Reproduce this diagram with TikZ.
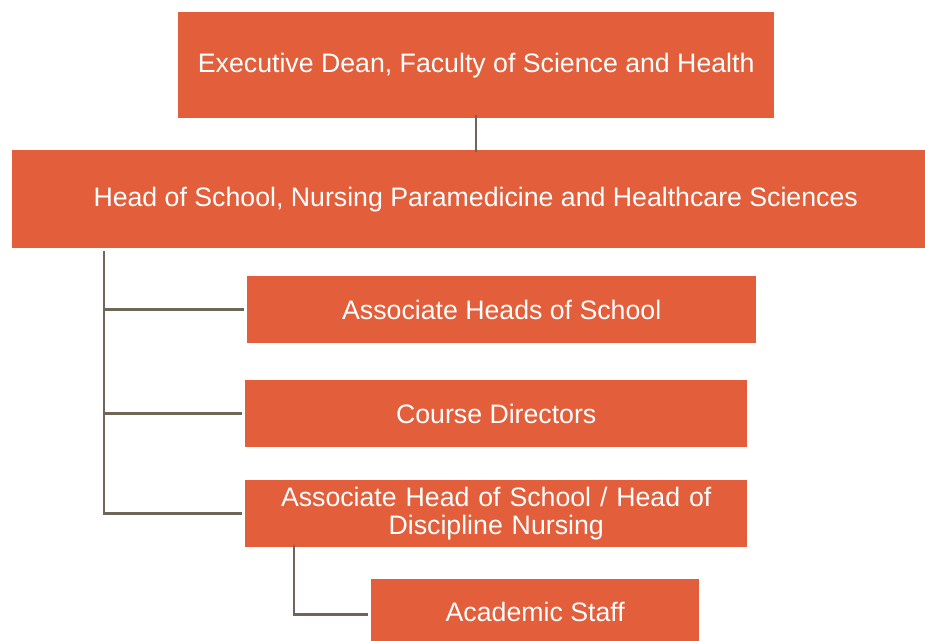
\documentclass[tikz,border=0pt]{standalone}
\usepackage{fontspec}
\setmainfont{Liberation Sans}
\definecolor{boxorange}{HTML}{E35E3A}
\definecolor{linegray}{HTML}{6F6658}
\begin{document}
\begin{tikzpicture}[x=1pt,y=-1pt,
  orgbox/.style={fill=boxorange, draw=none, text=white, font=\fontsize{26.7}{28}\selectfont, inner sep=0pt, align=center, anchor=north west},
  conn/.style={draw=linegray, line width=2.6pt}]
\useasboundingbox (0,0) rectangle (925,640);
\node[orgbox, minimum width=596pt, minimum height=106pt] (exec) at (178,12) {Executive Dean, Faculty of Science and Health};
\node[orgbox, minimum width=927pt, minimum height=98pt] (head) at (12,150) {Head of School, Nursing Paramedicine and Healthcare Sciences};
\node[orgbox, minimum width=509pt, minimum height=67pt] (ahs) at (247,276) {Associate Heads of School};
\node[orgbox, minimum width=502pt, minimum height=67pt] (cd) at (245,380) {Course Directors};
\node[orgbox, minimum width=502pt, minimum height=67pt, text width=490pt] (ahd) at (245,480) {Associate Head of School / Head of\\Discipline Nursing};
\node[orgbox, minimum width=328pt, minimum height=66pt] (acad) at (371,579) {Academic Staff};
\coordinate (t0) at (104,251);
\draw[conn] ([yshift=3pt]exec.south -| 476,0) -- ([yshift=-2pt]head.north -| 476,0);
\draw[conn] (t0) |- ([xshift=-3pt]ahd.west);
\draw[conn] (t0 |- ahs.west) -- ([xshift=-3pt]ahs.west);
\draw[conn] (t0 |- cd.west) -- ([xshift=-3pt]cd.west);
\draw[conn] ([yshift=2pt]ahd.south -| 294,0) |- ([xshift=-3pt,yshift=-2pt]acad.west);
\end{tikzpicture}
\end{document}
